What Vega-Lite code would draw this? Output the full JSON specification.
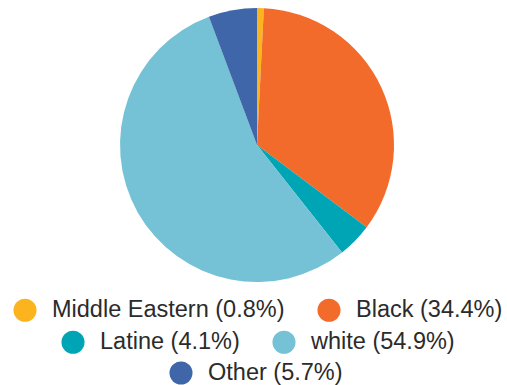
{
  "$schema": "https://vega.github.io/schema/vega-lite/v6.json",
  "width": 500,
  "height": 290,
  "autosize": "none",
  "padding": {"left": 7, "right": 0, "top": 0, "bottom": 95},
  "background": "white",
  "data": {
    "values": [
      {"group": "Middle Eastern (0.8%)", "pct": 0.8, "row": "a"},
      {"group": "Black (34.4%)", "pct": 34.4, "row": "a"},
      {"group": "Latine (4.1%)", "pct": 4.1, "row": "b"},
      {"group": "white (54.9%)", "pct": 54.9, "row": "b"},
      {"group": "Other (5.7%)", "pct": 5.7, "row": "c"}
    ]
  },
  "transform": [
    {"window": [{"op": "sum", "field": "pct", "as": "cum"}], "frame": [null, 0]},
    {"calculate": "datum.cum - datum.pct", "as": "start"}
  ],
  "layer": [
    {
      "transform": [{"filter": "datum.row === 'a'"}],
      "mark": {"type": "arc", "outerRadius": 137},
      "encoding": {
        "theta": {"field": "start", "type": "quantitative", "scale": {"domain": [0, 99.9]}},
        "theta2": {"field": "cum"},
        "color": {
          "field": "group", "type": "nominal", "sort": null,
          "scale": {"domain": ["Middle Eastern (0.8%)", "Black (34.4%)"], "range": ["#FBB41E", "#F26B2A"]},
          "legend": {"orient": "none", "legendX": 6, "legendY": 298, "columns": 2, "direction": "horizontal"}
        }
      }
    },
    {
      "transform": [{"filter": "datum.row === 'b'"}],
      "mark": {"type": "arc", "outerRadius": 137},
      "encoding": {
        "theta": {"field": "start", "type": "quantitative", "scale": {"domain": [0, 99.9]}},
        "theta2": {"field": "cum"},
        "color": {
          "field": "group", "type": "nominal", "sort": null,
          "scale": {"domain": ["Latine (4.1%)", "white (54.9%)"], "range": ["#00A5B5", "#75C2D6"]},
          "legend": {"orient": "none", "legendX": 54, "legendY": 330, "columns": 2, "direction": "horizontal"}
        }
      }
    },
    {
      "transform": [{"filter": "datum.row === 'c'"}],
      "mark": {"type": "arc", "outerRadius": 137},
      "encoding": {
        "theta": {"field": "start", "type": "quantitative", "scale": {"domain": [0, 99.9]}},
        "theta2": {"field": "cum"},
        "color": {
          "field": "group", "type": "nominal", "sort": null,
          "scale": {"domain": ["Other (5.7%)"], "range": ["#3F66A8"]},
          "legend": {"orient": "none", "legendX": 162, "legendY": 361, "columns": 1, "direction": "horizontal"}
        }
      }
    }
  ],
  "resolve": {"scale": {"color": "independent", "theta": "shared"}, "legend": {"color": "independent"}},
  "config": {
    "view": {"stroke": null},
    "legend": {
      "title": null,
      "symbolType": "circle",
      "symbolSize": 530,
      "symbolStrokeWidth": 0,
      "symbolOpacity": 1,
      "labelFont": "Liberation Sans",
      "labelFontSize": 23.5,
      "labelColor": "#2b2b2b",
      "labelLimit": 400,
      "labelOffset": 15,
      "columnPadding": 32,
      "padding": 0,
      "offset": 0
    }
  }
}
